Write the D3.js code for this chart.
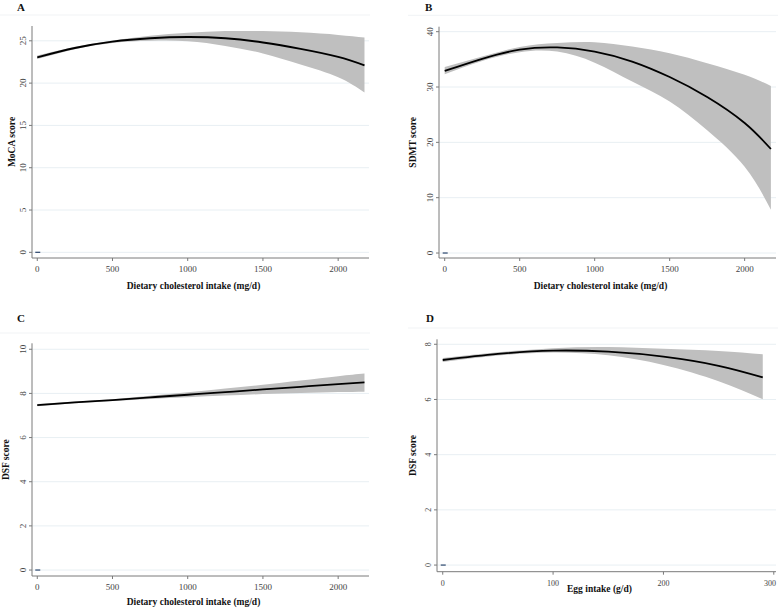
<!DOCTYPE html>
<html>
<head>
<meta charset="utf-8">
<script src="https://cdn.jsdelivr.net/npm/d3@7"></script>
<style>
  body { margin: 0; background: #fff; }
  text { font-family: "Liberation Serif", "Times New Roman", serif; }
</style>
</head>
<body>
<div id="chart"></div>
<script>
// ---- data ----
var cholX = [0, 250, 500, 750, 1000, 1250, 1500, 1750, 2000, 2175];

var mocaFit = [23.05, 24.15, 24.9, 25.3, 25.45, 25.3, 24.8, 24.05, 23.1, 22.1];
var mocaLo  = [22.85, 24.0, 24.75, 25.0, 24.95, 24.4, 23.5, 22.2, 20.7, 18.9];
var mocaHi  = [23.25, 24.3, 25.05, 25.6, 25.95, 26.15, 26.15, 26.0, 25.7, 25.4];

var sdmtFit = [32.9, 35.1, 36.75, 37.15, 36.4, 34.6, 31.8, 28.2, 23.5, 18.8];
var sdmtLo  = [32.3, 34.7, 36.3, 36.4, 34.4, 31.0, 27.4, 22.2, 15.6, 7.8];
var sdmtHi  = [33.6, 35.5, 37.25, 37.95, 38.1, 37.3, 36.1, 34.3, 32.2, 30.2];

var dsfFit = [7.47, 7.59, 7.70, 7.82, 7.94, 8.06, 8.18, 8.30, 8.42, 8.50];
var dsfLo  = [7.42, 7.55, 7.66, 7.75, 7.83, 7.90, 7.97, 8.02, 8.06, 8.08];
var dsfHi  = [7.52, 7.63, 7.74, 7.89, 8.05, 8.22, 8.39, 8.58, 8.78, 8.90];

var eggX   = [0, 50, 100, 150, 200, 250, 290];
var eggFit = [7.43, 7.65, 7.77, 7.73, 7.55, 7.22, 6.80];
var eggLo  = [7.36, 7.59, 7.70, 7.60, 7.25, 6.66, 6.01];
var eggHi  = [7.50, 7.71, 7.86, 7.90, 7.84, 7.76, 7.64];

var cholTicks = [0, 500, 1000, 1500, 2000];
var eggTicks = [0, 100, 200, 300];

// ---- panel layout ----
var panels = [
  { letter: "A", yLabel: "MoCA score", xLabel: "Dietary cholesterol intake (mg/d)",
    x: cholX, fit: mocaFit, lo: mocaLo, hi: mocaHi,
    xTicks: cholTicks, yTicks: [0, 5, 10, 15, 20, 25],
    xDom: [-35, 2205], yDom: [-0.67, 26.75],
    l: 32, r: 369, t: 26, b: 258,
    letterX: 17, letterY: 11, sepY: 15, sepX: [0, 370],
    yLabX: 15, xLabY: 289, fs: 9 },
  { letter: "B", yLabel: "SDMT score", xLabel: "Dietary cholesterol intake (mg/d)",
    x: cholX, fit: sdmtFit, lo: sdmtLo, hi: sdmtHi,
    xTicks: cholTicks, yTicks: [0, 10, 20, 30, 40],
    xDom: [-38, 2209], yDom: [-0.9, 40.9],
    l: 439, r: 776, t: 26.7, b: 258,
    letterX: 425, letterY: 11, sepY: 15.3, sepX: [408, 778],
    yLabX: 416, xLabY: 289, fs: 9 },
  { letter: "C", yLabel: "DSF score", xLabel: "Dietary cholesterol intake (mg/d)",
    x: cholX, fit: dsfFit, lo: dsfLo, hi: dsfHi,
    xTicks: cholTicks, yTicks: [0, 2, 4, 6, 8, 10],
    xDom: [-35, 2205], yDom: [-0.27, 10.27],
    l: 32, r: 369, t: 343.3, b: 576,
    letterX: 17, letterY: 322, sepY: 333, sepX: [0, 370],
    yLabX: 9, xLabY: 605, fs: 9 },
  { letter: "D", yLabel: "DSF score", xLabel: "Egg intake (g/d)",
    x: eggX, fit: eggFit, lo: eggLo, hi: eggHi,
    xTicks: eggTicks, yTicks: [0, 2, 4, 6, 8],
    xDom: [-5.2, 302], yDom: [-0.24, 8.18],
    l: 437, r: 776, t: 339.3, b: 571.7,
    letterX: 426, letterY: 322, sepY: 328, sepX: [408, 778],
    yLabX: 416, xLabY: 592, fs: 8 }
];

var svg = d3.select("#chart")
  .append("svg")
  .attr("width", 778)
  .attr("height", 608);

panels.forEach(function (p) {
  var x = d3.scaleLinear().domain(p.xDom).range([p.l, p.r]);
  var y = d3.scaleLinear().domain(p.yDom).range([p.b, p.t]);
  var g = svg.append("g");

  // faint separator under panel letter
  g.append("line")
    .attr("x1", p.sepX[0]).attr("x2", p.sepX[1])
    .attr("y1", p.sepY).attr("y2", p.sepY)
    .attr("stroke", "#f1f3f5");

  g.append("text")
    .attr("x", p.letterX).attr("y", p.letterY)
    .attr("font-size", 11).attr("font-weight", "bold")
    .attr("fill", "#111")
    .text(p.letter);

  // gridlines
  g.selectAll(".grid")
    .data(p.yTicks)
    .enter().append("line")
    .attr("x1", p.l).attr("x2", p.r)
    .attr("y1", d => y(d)).attr("y2", d => y(d))
    .attr("stroke", "#e8eff3");

  var pts = p.x.map((d, i) => ({ x: d, fit: p.fit[i], lo: p.lo[i], hi: p.hi[i] }));

  var area = d3.area()
    .x(d => x(d.x))
    .y0(d => y(d.lo))
    .y1(d => y(d.hi))
    .curve(d3.curveNatural);

  var line = d3.line()
    .x(d => x(d.x))
    .y(d => y(d.fit))
    .curve(d3.curveNatural);

  g.append("path")
    .datum(pts)
    .attr("d", area)
    .attr("fill", "#bfbfbf");

  g.append("path")
    .datum(pts)
    .attr("d", line)
    .attr("fill", "none")
    .attr("stroke", "#000")
    .attr("stroke-width", 1.8);

  // small rug mark at origin
  g.append("line")
    .attr("x1", x(0) - 2).attr("x2", x(0) + 3)
    .attr("y1", y(0)).attr("y2", y(0))
    .attr("stroke", "#3b5478")
    .attr("stroke-width", 1.3);

  // axes
  g.append("line")
    .attr("x1", p.l).attr("x2", p.l)
    .attr("y1", p.t).attr("y2", p.b)
    .attr("stroke", "#7a7a7a");
  g.append("line")
    .attr("x1", p.l).attr("x2", p.r)
    .attr("y1", p.b).attr("y2", p.b)
    .attr("stroke", "#7a7a7a");

  // y ticks
  g.selectAll(".yt")
    .data(p.yTicks)
    .enter().append("line")
    .attr("x1", p.l - 3).attr("x2", p.l)
    .attr("y1", d => y(d)).attr("y2", d => y(d))
    .attr("stroke", "#7a7a7a");
  g.selectAll(".yl")
    .data(p.yTicks)
    .enter().append("text")
    .attr("transform", d => "translate(" + (p.l - 6.5) + "," + y(d) + ") rotate(-90)")
    .attr("text-anchor", "middle")
    .attr("font-size", p.fs)
    .attr("fill", "#444")
    .text(d => d);

  // x ticks
  g.selectAll(".xt")
    .data(p.xTicks)
    .enter().append("line")
    .attr("x1", d => x(d)).attr("x2", d => x(d))
    .attr("y1", p.b).attr("y2", p.b + 3)
    .attr("stroke", "#7a7a7a");
  g.selectAll(".xl")
    .data(p.xTicks)
    .enter().append("text")
    .attr("x", d => Math.min(x(d), 770))
    .attr("y", p.b + 14)
    .attr("text-anchor", "middle")
    .attr("font-size", p.fs)
    .attr("fill", "#444")
    .text(d => d);

  // axis titles
  g.append("text")
    .attr("x", (p.l + p.r) / 2 - 7)
    .attr("y", p.xLabY)
    .attr("text-anchor", "middle")
    .attr("font-size", 9.5)
    .attr("font-weight", "bold")
    .attr("fill", "#111")
    .text(p.xLabel);

  g.append("text")
    .attr("transform", "translate(" + p.yLabX + "," + ((p.t + p.b) / 2) + ") rotate(-90)")
    .attr("text-anchor", "middle")
    .attr("font-size", 9.5)
    .attr("font-weight", "bold")
    .attr("fill", "#111")
    .text(p.yLabel);
});
</script>
</body>
</html>
